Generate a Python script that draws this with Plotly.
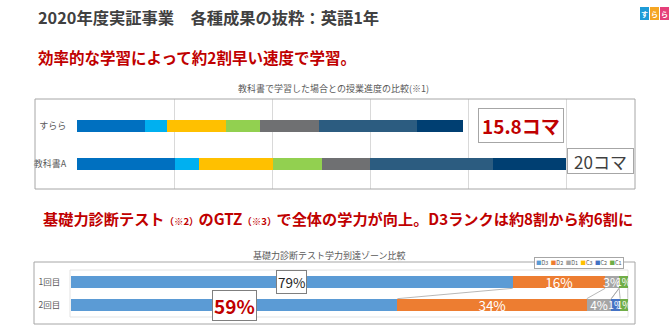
import plotly.graph_objects as go

W, H = 670, 334
FONT = "Noto Sans CJK JP"

# ---------- data ----------
top_categories = ["すらら", "教科書A"]
sura_segments = [2.8, 0.9, 2.4, 1.4, 2.4, 4.0, 1.9]      # total 15.8
kyokasho_segments = [4, 1, 3, 2, 2, 5, 3]                # total 20
top_colors = ["#0070C0", "#00B0F0", "#FFC000", "#92D050", "#6F7072", "#2C5C80", "#003F72"]
top_totals_text = ["15.8コマ", "20コマ"]

zones = ["D3", "D2", "D1", "C3", "C2", "C1"]
rounds = ["1回目", "2回目"]
round1 = [79.3, 16.6, 2.5, 0.0, 0.0, 1.6]
round2 = [58.6, 34.0, 4.4, 0.0, 1.6, 1.4]
round1_labels = ["79%", "16%", "3%", "", "", "1%"]
round2_labels = ["59%", "34%", "4%", "", "1%", "1%"]
zone_colors = ["#5B9BD5", "#ED7D31", "#A5A5A5", "#FFC000", "#4472C4", "#70AD47"]

title_text = "2020年度実証事業　各種成果の抜粋：英語1年"
head1_text = "効率的な学習によって約2割早い速度で学習。"
head2_text = ("基礎力診断テスト<span style='font-size:9.5px'>（※2）</span>のGTZ"
              "<span style='font-size:9.5px'>（※3）</span>で全体の学力が向上。D3ランクは約8割から約6割に")
chart1_title = "教科書で学習した場合との授業進度の比較(※1)"
chart2_title = "基礎力診断テスト学力到達ゾーン比較"


def px(x):
    return x / W


def py(y):
    return 1 - y / H


def label_size(v):
    # narrow segments get a smaller label so neighbours crowd less
    if v >= 5:
        return 13.5
    if v >= 2:
        return 12
    return 10


fig = go.Figure()

# ---------- top chart ----------
for i in range(len(sura_segments)):
    fig.add_trace(go.Bar(
        x=[sura_segments[i], kyokasho_segments[i]], y=top_categories,
        orientation="h", marker=dict(color=top_colors[i], line=dict(width=0)),
        width=0.30, xaxis="x", yaxis="y", showlegend=False, hoverinfo="skip"))

# ---------- bottom chart ----------
for i in range(len(zones)):
    t1 = round1_labels[i] if i > 0 else ""
    t2 = round2_labels[i] if i > 0 else ""
    fig.add_trace(go.Bar(
        x=[round1[i], round2[i]], y=rounds, name=zones[i],
        orientation="h", marker=dict(color=zone_colors[i], line=dict(width=0)),
        width=0.55, xaxis="x2", yaxis="y2", showlegend=False,
        text=[t1, t2], textposition="inside", insidetextanchor="middle",
        textangle=0, constraintext="none",
        textfont=dict(color="white", family=FONT,
                      size=[label_size(round1[i]), label_size(round2[i])]),
        cliponaxis=False, hoverinfo="skip"))

x_top_left, x_top_right = 77, 635
unit_px = (566 - 77) / 20.0
top_range_max = (x_top_right - x_top_left) / unit_px

fig.update_layout(
    width=W, height=H, margin=dict(l=0, r=0, t=0, b=0),
    paper_bgcolor="white", plot_bgcolor="rgba(0,0,0,0)",
    barmode="stack", uniformtext=dict(mode=False),
    font=dict(family=FONT),
    xaxis=dict(domain=[px(x_top_left), px(x_top_right)], range=[0, top_range_max],
               showgrid=True, gridcolor="#D9D9D9", gridwidth=1, dtick=4, tick0=0,
               showticklabels=False, zeroline=False, showline=False, fixedrange=True),
    yaxis=dict(domain=[py(189), py(99)], type="category",
               range=[1 + (189 - 164) / 38.0, -(126 - 99) / 38.0],
               showgrid=False, zeroline=False, showline=False,
               ticks="outside", ticklen=8, tickcolor="rgba(0,0,0,0)",
               tickfont=dict(size=9, color="#595959", family=FONT)),
    xaxis2=dict(domain=[px(71), px(628)], range=[0, 100], anchor="y2",
                showgrid=False, showticklabels=False, zeroline=False, showline=False),
    yaxis2=dict(domain=[py(317), py(270)], type="category", anchor="x2",
                range=[1 + 12 / 23.0, -12 / 23.0],
                showgrid=False, zeroline=False, showline=False,
                ticks="outside", ticklen=8, tickcolor="rgba(0,0,0,0)",
                tickfont=dict(size=8.5, color="#595959", family=FONT)),
)

shapes = []
# chart frames
shapes.append(dict(type="rect", xref="paper", yref="paper", x0=px(35), x1=px(635),
                   y0=py(189), y1=py(99), line=dict(color="#A6A6A6", width=1)))
shapes.append(dict(type="rect", xref="paper", yref="paper", x0=px(34), x1=px(635),
                   y0=py(324), y1=py(262), line=dict(color="#A6A6A6", width=1)))
shapes.append(dict(type="rect", xref="paper", yref="paper", x0=px(70), x1=px(628),
                   y0=py(317), y1=py(270), line=dict(color="#E3E3E3", width=1), layer="below"))

# series lines between stacked bars
c1, c2 = 0.0, 0.0
for i in range(len(zones)):
    c1 += round1[i]
    c2 += round2[i]
    shapes.append(dict(type="line", xref="x2", yref="y2", x0=c1, y0=0.275, x1=c2, y1=1 - 0.275,
                       line=dict(color="#A6A6A6", width=0.8)))

# logo squares
logo_cols = ["#1E9BD7", "#F5A623", "#E5407A"]
logo_chars = ["す", "ら", "ら"]
for k in range(3):
    shapes.append(dict(type="rect", xref="paper", yref="paper",
                       x0=px(640 + k * 10), x1=px(649 + k * 10), y0=py(20), y1=py(7),
                       fillcolor=logo_cols[k], line=dict(width=0)))
fig.update_layout(shapes=shapes)

ann = []
ann.append(dict(text="<b>" + title_text + "</b>", x=px(36), y=py(17), xref="paper", yref="paper",
                xanchor="left", yanchor="middle", showarrow=False,
                font=dict(size=16.3, color="#404040", family=FONT)))
ann.append(dict(text="<b>" + head1_text + "</b>", x=px(36), y=py(57), xref="paper", yref="paper",
                xanchor="left", yanchor="middle", showarrow=False,
                font=dict(size=15.5, color="#C00000", family=FONT)))
ann.append(dict(text="<b>" + head2_text + "</b>", x=px(41), y=py(218), xref="paper", yref="paper",
                xanchor="left", yanchor="middle", showarrow=False,
                font=dict(size=15.2, color="#C00000", family=FONT)))
ann.append(dict(text=chart1_title, x=px(333), y=py(88), xref="paper", yref="paper",
                xanchor="center", yanchor="middle", showarrow=False,
                font=dict(size=9, color="#595959", family=FONT)))
ann.append(dict(text=chart2_title, x=px(329), y=py(255), xref="paper", yref="paper",
                xanchor="center", yanchor="middle", showarrow=False,
                font=dict(size=9, color="#595959", family=FONT)))
# top total boxes
ann.append(dict(text="<b>" + top_totals_text[0] + "</b>", x=px(521), y=py(125), xref="paper", yref="paper",
                xanchor="center", yanchor="middle", showarrow=False,
                font=dict(size=19, color="#C00000", family=FONT),
                bgcolor="white", bordercolor="#A6A6A6", borderwidth=1, borderpad=3))
ann.append(dict(text=top_totals_text[1], x=px(600.5), y=py(160.5), xref="paper", yref="paper",
                xanchor="center", yanchor="middle", showarrow=False,
                font=dict(size=17, color="#404040", family=FONT), width=63, height=22,
                bgcolor="white", bordercolor="#A6A6A6", borderwidth=1, borderpad=1))
# D3 labels (boxed)
ann.append(dict(text=round1_labels[0], x=round1[0] / 2, y=0, xref="x2", yref="y2",
                xanchor="center", yanchor="middle", showarrow=False,
                font=dict(size=13.5, color="#262626", family=FONT),
                bgcolor="white", bordercolor="#7F7F7F", borderwidth=1, borderpad=1))
ann.append(dict(text="<b>" + round2_labels[0] + "</b>", x=round2[0] / 2, y=1, xref="x2", yref="y2",
                xanchor="center", yanchor="middle", showarrow=False,
                font=dict(size=19, color="#C00000", family=FONT),
                bgcolor="white", bordercolor="#7F7F7F", borderwidth=1, borderpad=1))
# legend (built from zones/colors)
leg = "  ".join("<span style='color:%s'>■</span>%s" % (c, z) for z, c in zip(zones, zone_colors))
ann.append(dict(text=leg, x=px(579), y=py(263), xref="paper", yref="paper",
                xanchor="center", yanchor="middle", showarrow=False,
                font=dict(size=5.5, color="#595959", family=FONT),
                bgcolor="white", bordercolor="#A6A6A6", borderwidth=1, borderpad=1))
# logo chars
for k in range(3):
    ann.append(dict(text="<b>" + logo_chars[k] + "</b>", x=px(644.5 + k * 10), y=py(13.5),
                    xref="paper", yref="paper", xanchor="center", yanchor="middle", showarrow=False,
                    font=dict(size=7, color="white", family=FONT)))
fig.update_layout(annotations=ann)

fig.write_html("out.html")
